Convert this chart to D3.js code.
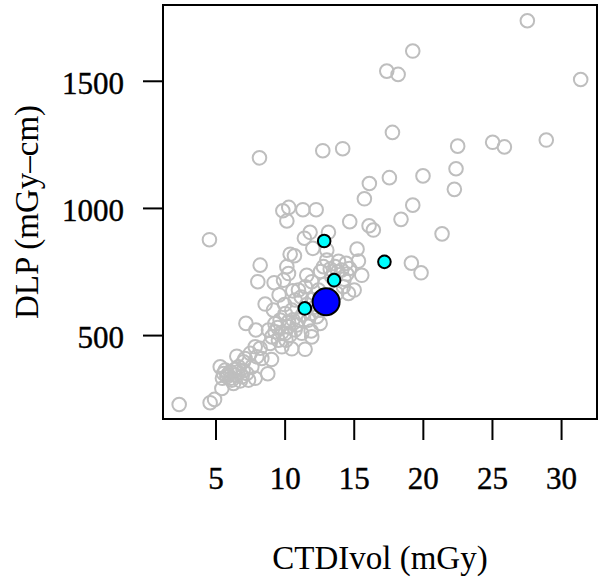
<!DOCTYPE html>
<html lang="en">
<head>
  <meta charset="UTF-8" />
  <title>CTDIvol vs DLP</title>
  <script src="https://d3js.org/d3.v7.min.js"></script>
  <style>
    body {
      margin: 0;
      background-color: #ffffff;
    }

    .tick-label {
      font-family: 'Liberation Serif', 'Times New Roman', serif;
      font-size: 31px;
      fill: #000;
      stroke: #000;
      stroke-width: 0.4px;
    }

    .axis-title {
      font-family: 'Liberation Serif', 'Times New Roman', serif;
      font-size: 33px;
      fill: #000;
    }
  </style>
</head>
<body>

  <div id="dose-chart"></div>

  <script>
    // other exams (grey open circles)
    const ctdiOthers = [
      27.56, 19.27, 17.39, 18.21, 31.42, 17.8, 8.18, 12.76, 14.2, 22.52, 25.05, 25.9, 28.93,
      22.4, 22.28, 17.58, 20.01, 16.13, 15.77, 19.27, 18.42, 14.71, 16.11, 16.42, 21.39, 4.56,
      9.87, 10.3, 10.16, 11.32, 12.28, 19.17, 19.87, 15.24, 15.34, 15.58, 15.03, 13.17, 11.84,
      11.43, 12.04, 8.23, 8.06, 10.4, 10.71, 10.16, 9.24, 11.6, 13.05, 8.59, 9.6, 7.2, 7.92,
      11.48, 11.92, 10.52, 9.8, 9.05, 8.78, 2.37, 4.61, 4.93, 5.46,
      5.34, 5.58, 5.82, 6.18, 6.42, 6.66, 6.54, 7.02, 7.26, 7.39, 7.87, 7.63, 7.99, 8.23, 7.87,
      8.35, 6.3, 5.7, 6.06, 6.9, 7.14, 7.51,
      8.83, 9.07, 9.31, 9.55, 8.95, 10.04, 10.28, 10.76, 11.0, 11.24, 11.72, 9.67, 10.04, 10.52,
      10.76, 9.19, 10.28, 11.0, 10.59, 12.33, 12.57, 11.96, 9.92, 10.28, 11.96, 12.81, 13.65,
      13.84, 14.13, 14.5, 14.69, 14.45, 14.25, 14.62, 13.05, 13.41, 13.77, 12.45, 11.96,
      12.45, 12.69,
      5.9, 6.1, 6.6, 6.8, 5.5, 7.0, 6.4,
      9.5, 9.8, 10.1, 10.4, 10.6, 10.9, 11.3, 11.6, 12.0, 12.2, 12.9, 13.3, 13.9, 14.3, 9.3,
      10.0, 11.2, 12.6, 11.5
    ];
    const dlpOthers = [
      1736, 1617, 1538, 1525, 1505, 1297, 1197, 1225, 1233, 1243, 1258, 1240, 1267,
      1154, 1073, 1119, 1126, 1096, 1036, 1011, 955, 946, 930, 913, 898, 875,
      989, 1002, 949, 993, 993, 783, 745, 838, 791, 735, 677, 904, 904,
      881, 841, 775, 710, 818, 812, 769, 706, 735, 795, 622, 658, 546, 520,
      444, 516, 446, 454, 404, 348, 227, 234, 247, 290,
      375, 349, 336, 323, 343, 375, 417, 395, 349, 323, 330, 375, 415, 448, 454,
      408, 310, 362, 356, 336, 408, 428,
      520, 493, 513, 480, 467, 507, 533, 520, 559, 507, 559, 559, 585, 598,
      638, 598, 552, 677, 674, 572, 546, 585, 716, 742, 710, 769, 769,
      749, 756, 740, 762, 782, 690, 664, 834, 729, 664, 598, 493,
      677, 644,
      345, 330, 355, 320, 330, 360, 365,
      530, 510, 480, 500, 560, 540, 580, 620, 640, 610, 700, 760, 790, 720, 545,
      620, 650, 750, 690
    ];

    // highlighted exams (cyan) and the summary point (blue)
    const ctdiHighlight = [12.86, 17.22, 13.58, 11.46];
    const dlpHighlight = [870, 788, 716, 605];
    const ctdiSummary = [13.0];
    const dlpSummary = [631];

    const xTicks = [5, 10, 15, 20, 25, 30];
    const yTicks = [500, 1000, 1500];

    function drawChart() {
      const margin = { top: 5, right: 2, bottom: 161, left: 163 };
      const svgWidth = 599;
      const svgHeight = 580;
      const width = svgWidth - margin.left - margin.right;
      const height = svgHeight - margin.top - margin.bottom;

      const svg = d3.select("#dose-chart")
        .append("svg")
        .attr("width", svgWidth)
        .attr("height", svgHeight)
        .append("g")
        .attr("transform", `translate(${margin.left},${margin.top})`);

      const x = d3.scaleLinear().domain([1.2, 32.6]).range([0, width]);
      const y = d3.scaleLinear().domain([170, 1798]).range([height, 0]);

      const others = ctdiOthers.map((c, i) => ({ c, d: dlpOthers[i] }));
      const highlight = ctdiHighlight.map((c, i) => ({ c, d: dlpHighlight[i] }));
      const summary = ctdiSummary.map((c, i) => ({ c, d: dlpSummary[i] }));

      svg.selectAll(".other")
        .data(others)
        .enter()
        .append("circle")
        .attr("class", "other")
        .attr("cx", d => x(d.c))
        .attr("cy", d => y(d.d))
        .attr("r", 6.8)
        .attr("fill", "none")
        .attr("stroke", "#bebebe")
        .attr("stroke-width", 2);

      svg.selectAll(".highlight")
        .data(highlight)
        .enter()
        .append("circle")
        .attr("class", "highlight")
        .attr("cx", d => x(d.c))
        .attr("cy", d => y(d.d))
        .attr("r", 6.3)
        .attr("fill", "#00ffff")
        .attr("stroke", "#000")
        .attr("stroke-width", 2);

      svg.selectAll(".summary")
        .data(summary)
        .enter()
        .append("circle")
        .attr("class", "summary")
        .attr("cx", d => x(d.c))
        .attr("cy", d => y(d.d))
        .attr("r", 13.5)
        .attr("fill", "#0000ff")
        .attr("stroke", "#000")
        .attr("stroke-width", 2);

      // box
      svg.append("rect")
        .attr("width", width)
        .attr("height", height)
        .attr("fill", "none")
        .attr("stroke", "#000")
        .attr("stroke-width", 2);

      const xAxis = svg.append("g")
        .attr("transform", `translate(0,${height})`)
        .call(d3.axisBottom(x).tickValues(xTicks).tickSize(21).tickPadding(0).tickFormat(d3.format("d")));
      xAxis.select(".domain").remove();
      xAxis.selectAll("line").attr("stroke-width", 2);
      xAxis.selectAll("text")
        .attr("class", "tick-label")
        .attr("y", 70)
        .attr("dy", null);

      const yAxis = svg.append("g")
        .call(d3.axisLeft(y).tickValues(yTicks).tickSize(20).tickPadding(0).tickFormat(d3.format("d")));
      yAxis.select(".domain").remove();
      yAxis.selectAll("line").attr("stroke-width", 2);
      yAxis.selectAll("text")
        .attr("class", "tick-label")
        .attr("x", -39)
        .attr("dy", "0.4em");
      xAxis.attr("font-family", null).attr("font-size", null);
      yAxis.attr("font-family", null).attr("font-size", null);

      svg.append("text")
        .attr("class", "axis-title")
        .attr("x", width / 2)
        .attr("y", 564)
        .attr("text-anchor", "middle")
        .text("CTDIvol (mGy)");

      svg.append("text")
        .attr("class", "axis-title")
        .attr("transform", `translate(${38 - margin.left},${height / 2}) rotate(-90)`)
        .attr("text-anchor", "middle")
        .text("DLP (mGy\u2013cm)");
    }

    drawChart();
  </script>

</body>
</html>
